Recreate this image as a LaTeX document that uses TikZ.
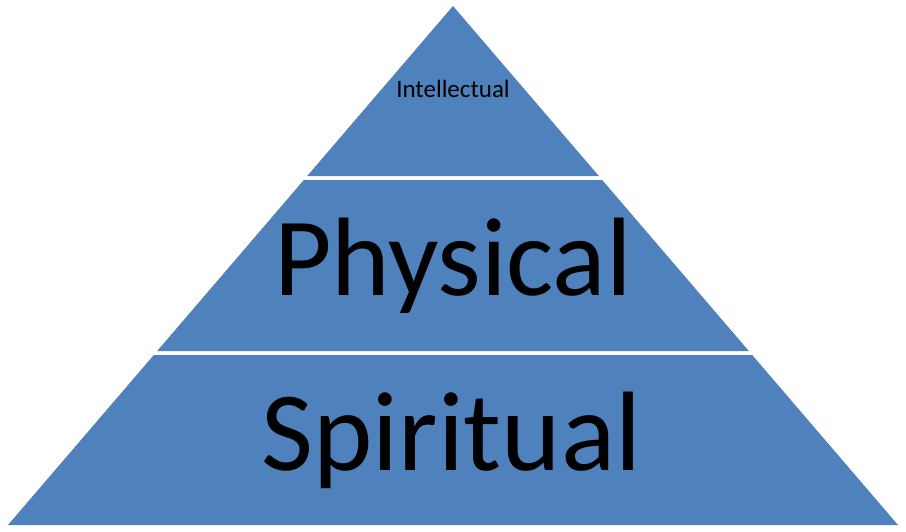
\documentclass[tikz,border=0pt]{standalone}
\usepackage{fontspec}
\setmainfont{Carlito}
\definecolor{tierblue}{HTML}{4F81BD}
\begin{document}
\begin{tikzpicture}[x=1pt,y=-1pt,
  tier/.style={fill=tierblue,draw=none},
  lbl/.style={anchor=base,inner sep=0pt,text=black}]
\useasboundingbox (0,0) rectangle (906,531);
% top tier
\fill[tier] (453,6) -- (598.8,176) -- (307.2,176) -- cycle;
% middle tier
\fill[tier] (303.8,180) -- (602.2,180) -- (748.8,351) -- (157.2,351) -- cycle;
% bottom tier
\fill[tier] (153.8,355) -- (752.2,355) -- (898,525) -- (8,525) -- cycle;
\node[lbl,font=\fontsize{25}{29}\selectfont] (intel) at (453,97) {Intellectual};
\node[lbl,font=\fontsize{111.5}{120}\selectfont] (phys) at (453,295) {Physical};
\node[lbl,font=\fontsize{113}{120}\selectfont] (spir) at (451.5,470) {Spiritual};
\end{tikzpicture}
\end{document}
